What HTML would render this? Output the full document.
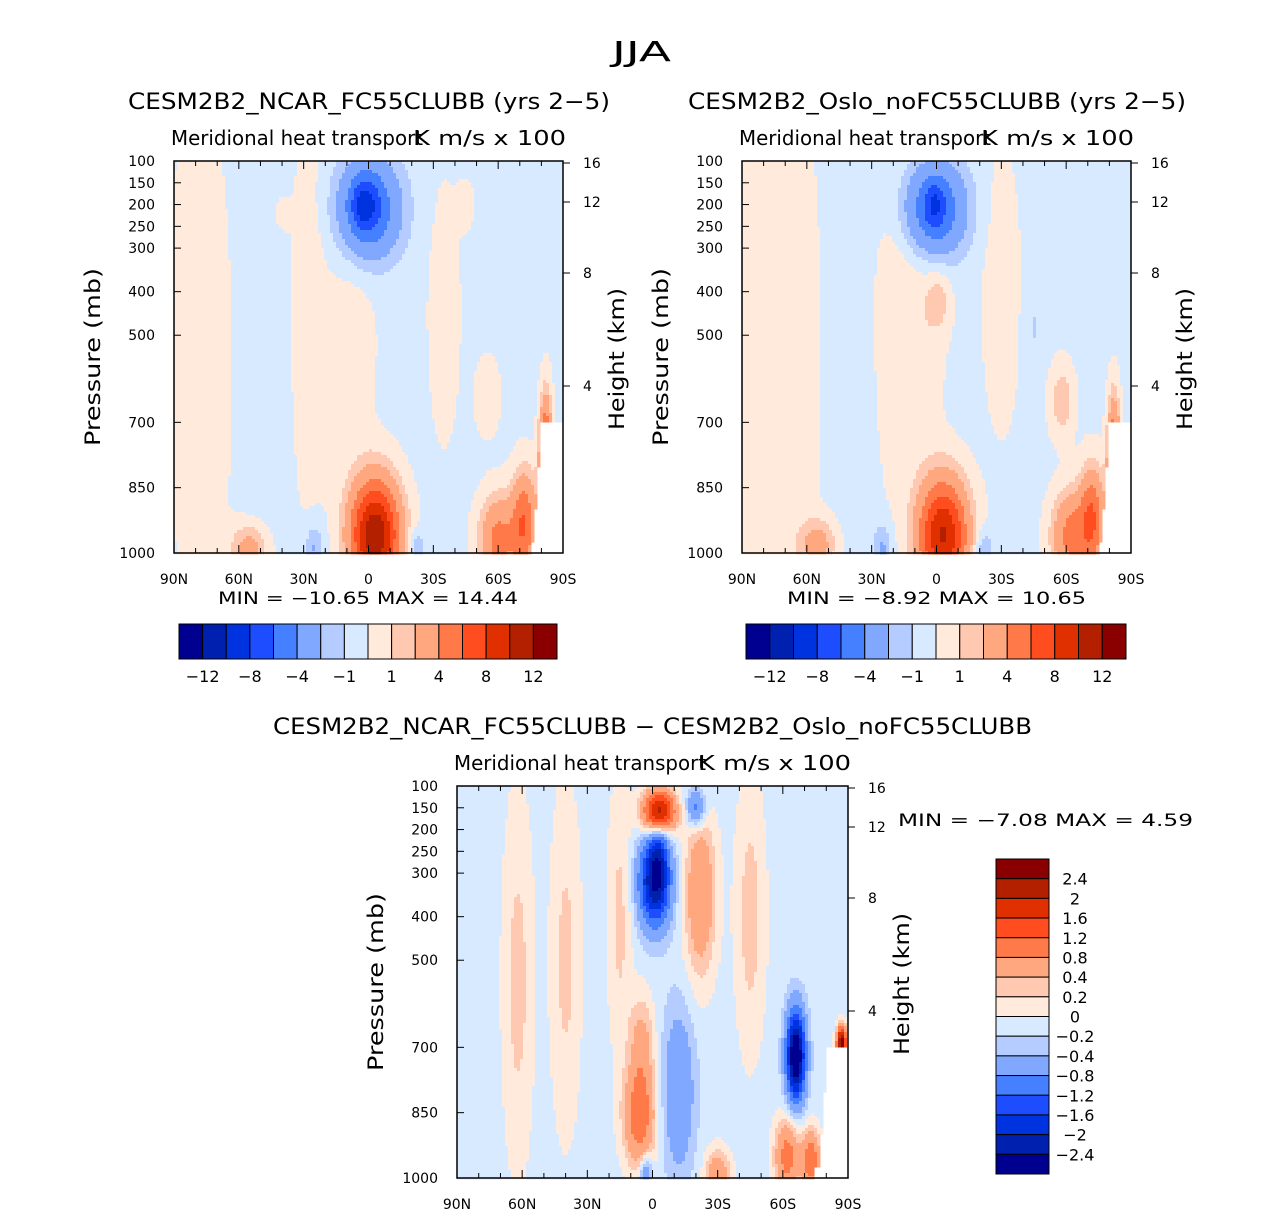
<!DOCTYPE html>
<html><head><meta charset="utf-8"><style>
body{margin:0;background:#fff}
svg text{font-family:"DejaVu Sans","Liberation Sans",sans-serif;fill:#000}
</style></head><body>
<svg id="root" width="1285" height="1215" viewBox="0 0 1285 1215" xmlns="http://www.w3.org/2000/svg">
<rect width="1285" height="1215" fill="#fff"/>
<text x="612" y="61" font-size="28" textLength="59" lengthAdjust="spacingAndGlyphs">JJA</text>
<g id="g1"></g><g id="g2"></g><g id="g3"></g>
</svg>
<script>
const colors=["#000090","#0020b0","#0033e0","#1e4cff","#4480ff","#80a8ff","#b4ccff","#d8eaff","#ffeadb","#ffc8b0","#ffa880","#ff7a48","#ff4d20","#e03000","#b32000","#8a0000"];
const levelsAbs=[-12,-10,-8,-6,-4,-2,-1,0,1,2,4,6,8,10,12];
const levelsDiff=[-2.4,-2,-1.6,-1.2,-0.8,-0.4,-0.2,0,0.2,0.4,0.8,1.2,1.6,2,2.4];
const absTickLabels=["−12","−8","−4","−1","1","4","8","12"];
const diffTickLabels=["−2.4","−2","−1.6","−1.2","−0.8","−0.4","−0.2","0","0.2","0.4","0.8","1.2","1.6","2","2.4"];
const pTicks=[100,150,200,250,300,400,500,700,850,1000];
const hTicks=[16,12,8,4];
const hTickY=[2,41,112,225];
const latTicks=[90,60,30,0,-30,-60,-90];
const latLabels=["90N","60N","30N","0","30S","60S","90S"];
// panel 1 features (NCAR)
const p1Base=-0.3;
const p1Lat=[77,50,28,0,2,-3,8,-35,-60,-72,-82,55,25,-55,-45,-22,40];
const p1P=[550,450,450,210,200,960,500,450,970,930,800,990,990,640,200,990,220];
const p1Amp=[0.9,-0.4,1.0,-6,-4,12,0.9,1.0,5,6,9,3,-2,1.2,0.8,-2,0.9];
const p1SL=[12,10,6,10,4,8,8,5,6,4,2,6,3,4,3,3,3];
const p1SP=[400,500,330,80,40,90,200,200,70,80,100,40,40,60,40,30,30];
// panel 2 features (Oslo)
const p2Base=-0.3;
const p2Lat=[72,45,20,1,1,-3,8,-30,-62,-72,-82,55,25,-58,-45,-22,-1];
const p2P=[550,550,450,210,200,960,480,400,960,920,800,980,990,650,480,990,420];
const p2Amp=[1.0,-0.3,0.8,-6,-3,10.5,1.0,1.0,5,6,8,3,-2,2,-0.8,-2,1.5];
const p2SL=[15,8,6,10,3,8,8,6,6,4,2,6,3,4,3,3,4];
const p2SP=[450,400,300,75,35,90,220,220,70,80,100,40,40,60,60,30,50];
// panel 3 features (difference)
const p3Base=-0.1;
const p3Lat=[-3,-1,-3,-20,-22,6,5,-12,-66,-62,-73,-87,62,40,15,-45,3,-30];
const p3P=[160,320,240,150,350,860,690,800,720,950,960,690,550,500,400,400,990,990];
const p3Amp=[2.6,-2.3,-0.8,-1,0.9,1.2,0.6,-0.7,-3,1.1,1.2,3,0.38,0.36,0.36,0.4,-0.8,0.8];
const p3SL=[5,5,3,3,5,5,4,5,3,4,3,1.5,5,5,4,5,2,4];
const p3SP=[35,70,60,30,130,80,80,130,70,60,50,25,300,280,220,220,30,40];

const NS="http://www.w3.org/2000/svg";
function el(tag,attrs,parent,txt){const e=document.createElementNS(NS,tag);for(const k in attrs)e.setAttribute(k,attrs[k]);if(txt!==undefined)e.textContent=txt;parent.appendChild(e);return e;}
function colorOf(v,lev){let i=0;while(i<lev.length&&v>=lev[i])i++;return colors[i];}
function masked(lat,p){return (lat<-80&&p>700)||(lat<-78.5&&p>800)||(lat<-77&&p>900)||(lat<-75&&p>977);}

function drawPanel(g,P){
  const xS=lat=>P.x0+(90-lat)/180*P.w;
  const yS=p=>P.y0+(p-100)/900*P.h;
  const fld=el('g',{},g);
  
  
  const c=3;
  for(let y=0;y<P.h;y+=c){
    const p=100+(y+c/2)/P.h*900;
    let runStart=0,runCol=null;
    const flush=(end)=>{if(runCol&&runCol!=='none'){el('rect',{x:P.x0+runStart,y:P.y0+y,width:end-runStart+0.5,height:c+0.5,fill:runCol},fld);}};
    for(let x=0;x<P.w;x+=c){
      const lat=90-(x+c/2)/P.w*180;
      let col;
      if(masked(lat,p))col='none';
      else{let v=P.base;for(let i=0;i<P.lat.length;i++){const dl=(lat-P.lat[i])/P.sl[i],dp=(p-P.p[i])/P.sp[i];v+=P.amp[i]*Math.exp(-0.5*(dl*dl+dp*dp));}col=colorOf(v,P.lev);}
      if(col!==runCol){flush(x);runStart=x;runCol=col;}
    }
    flush(P.w);
  }
  const fr=el('rect',{x:P.x0,y:P.y0,width:P.w,height:P.h,fill:'none',stroke:'#000','stroke-width':1.5},g);
  
  pTicks.forEach(pv=>{const y=yS(pv);el('line',{x1:P.x0,x2:P.x0+7,y1:y,y2:y,stroke:'#000'},g);
    const t=el('text',{x:P.x0-19,y:y+5,'font-size':14,'text-anchor':'end'},g,pv);
    });
  hTicks.forEach((h,i)=>{const y=P.y0+hTickY[i];el('line',{x1:P.x0+P.w,x2:P.x0+P.w+7,y1:y,y2:y,stroke:'#000'},g);
    const t=el('text',{x:P.x0+P.w+20,y:y+5,'font-size':14},g,h);
    });
  for(let l=90;l>=-90;l-=10){const x=xS(l);const len=l%30===0?8:5;
    el('line',{x1:x,x2:x,y1:P.y0+P.h,y2:P.y0+P.h-len,stroke:'#000'},g);
    el('line',{x1:x,x2:x,y1:P.y0,y2:P.y0+len,stroke:'#000'},g);}
  latTicks.forEach((l,i)=>{const t=el('text',{x:xS(l),y:P.y0+P.h+31,'font-size':14,'text-anchor':'middle'},g,latLabels[i]);
    });
  let t=el('text',{x:P.x0-74,y:P.y0+196,'font-size':21,'text-anchor':'middle',textLength:178,lengthAdjust:'spacingAndGlyphs',transform:`rotate(-90 ${P.x0-74} ${P.y0+196})`},g,'Pressure (mb)');
  
  t=el('text',{x:P.x0+P.w+61,y:P.y0+198,'font-size':21,'text-anchor':'middle',textLength:142,lengthAdjust:'spacingAndGlyphs',transform:`rotate(-90 ${P.x0+P.w+61} ${P.y0+198})`},g,'Height (km)');
  
  t=el('text',{x:P.x0-3,y:P.y0-16,'font-size':20,textLength:252,lengthAdjust:'spacingAndGlyphs'},g,'Meridional heat transport');
  
  t=el('text',{x:P.x0+P.w-150,y:P.y0-16,'font-size':20,textLength:153,lengthAdjust:'spacingAndGlyphs'},g,'K m/s x 100');
  
  t=el('text',{x:P.tx,y:P.y0-52,'font-size':22,textLength:P.tl,lengthAdjust:'spacingAndGlyphs'},g,P.title);
  
}
function hBar(g,x0,y0,w,h,mm,mx,ml){
  const bw=w/16;
  colors.forEach((c,i)=>{const r=el('rect',{x:x0+i*bw,y:y0,width:bw,height:h,fill:c,stroke:'#000','stroke-width':1},g);
    });
  absTickLabels.forEach((s,i)=>{const t=el('text',{x:x0+(2*i+1)*bw,y:y0+h+23,'font-size':16,'text-anchor':'middle'},g,s);
    });
  const t=el('text',{x:mx,y:y0-20,'font-size':17,textLength:ml,lengthAdjust:'spacingAndGlyphs'},g,mm);
  
}
const g1=document.getElementById('g1'),g2=document.getElementById('g2'),g3=document.getElementById('g3');
drawPanel(g1,{name:'ncar',title:'CESM2B2_NCAR_FC55CLUBB (yrs 2−5)',tx:128,tl:482,x0:174,y0:161,w:389,h:392,lev:levelsAbs,base:p1Base,lat:p1Lat,p:p1P,amp:p1Amp,sl:p1SL,sp:p1SP});
drawPanel(g2,{name:'oslo',title:'CESM2B2_Oslo_noFC55CLUBB (yrs 2−5)',tx:688,tl:498,x0:742,y0:161,w:389,h:392,lev:levelsAbs,base:p2Base,lat:p2Lat,p:p2P,amp:p2Amp,sl:p2SL,sp:p2SP});
drawPanel(g3,{name:'diff',title:'CESM2B2_NCAR_FC55CLUBB − CESM2B2_Oslo_noFC55CLUBB',tx:273,tl:759,x0:457,y0:786,w:391,h:392,lev:levelsDiff,base:p3Base,lat:p3Lat,p:p3P,amp:p3Amp,sl:p3SL,sp:p3SP});
hBar(g1,179,624,378,35,'MIN = −10.65   MAX = 14.44',218,300);
hBar(g2,746,624,380,35,'MIN = −8.92   MAX = 10.65',787,299);
(function(){const x0=996,y0=859,w=53,h=315,bh=h/16;
  colors.slice().reverse().forEach((c,i)=>{const r=el('rect',{x:x0,y:y0+i*bh,width:w,height:bh,fill:c,stroke:'#000','stroke-width':1},g3);
    });
  diffTickLabels.slice().reverse().forEach((s,i)=>{const t=el('text',{x:1075,y:y0+(i+1)*bh+6,'font-size':16,'text-anchor':'middle'},g3,s);
    });
  const t=el('text',{x:898,y:826,'font-size':17,textLength:295,lengthAdjust:'spacingAndGlyphs'},g3,'MIN = −7.08   MAX = 4.59');
  
})();
</script>
</body></html>
